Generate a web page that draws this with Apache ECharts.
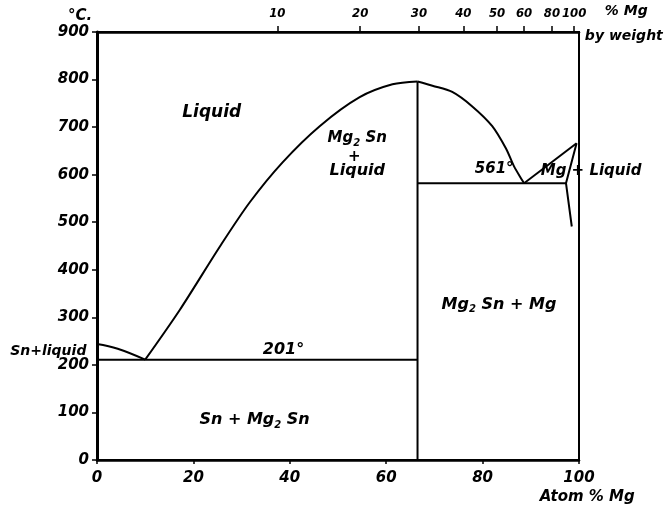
<!DOCTYPE html>
<html>
<head>
<meta charset="utf-8">
<script src="https://cdn.jsdelivr.net/npm/echarts@6/dist/echarts.min.js"></script>
<style>html,body{margin:0;padding:0;background:#fff}#c{width:671px;height:508px}</style>
</head>
<body>
<div id="c"></div>
<script>
// ---- data (atom % Mg, temperature °C) ----
const snLiquidus = [[0,244],[4.3,234],[10,211]];
const mg2snLiquidusLeft = [[10,211],[17.2,316],[25.5,449],[31.7,542],[38.5,626],[46.2,702],[54.5,763],[61.3,790],[66.5,796]];
const mg2snLiquidusRight = [[66.5,796],[69.6,787],[73.7,774],[77.8,744],[82,702],[84.9,654],[86.5,618],[88.6,582]];
const eutecticSn = [[0,211],[66.5,211]];
const mg2snCompound = [[66.5,0],[66.5,796]];
const eutecticMg = [[66.5,582],[97.3,582]];
const mgLiquidus = [[88.6,582],[99.5,666]];
const mgSolidus = [[99.5,666],[97.3,582],[98.5,491]];

const yTicks = [0,100,200,300,400,500,600,700,800,900];
const xTicks = [0,20,40,60,80,100];
// top axis: weight % Mg ticks, located at atom % positions
const weightLabels = ['10','20','30','40','50','60','80','100'];
const weightPosAtom = [37.4,54.6,66.8,76.0,83.0,88.6,94.4,99.0];

// annotations: [text, atom%, temp]
const annText = ['Liquid','Mg{s|2} Sn','+','Liquid','561°','Mg + Liquid','Mg{s|2} Sn + Mg','201°','Sn + Mg{s|2} Sn','Sn+liquid','°C.','% Mg','by weight','Atom % Mg'];
const annX = [23.8,54,53.4,54,82.4,102.5,83.4,38.7,32.7,-10.1,-3.5,109.8,109.3,101.7];
const annY = [731,677,637,609,611,607,327,232,84,228,934,944,890,-78];
const annSize = [17,15,15,16,15,15,16,16,16,14,15,14,14,15];

const font = {fontFamily:'DejaVu Sans', fontStyle:'italic', fontWeight:'bold', color:'#000'};

function lineSeries(d, smooth){
  return {type:'line', data:d, symbol:'none', smooth: smooth || false, clip:false,
    lineStyle:{color:'#000', width:2}, xAxisIndex:0, yAxisIndex:0, silent:true, z:3};
}

const chart = echarts.init(document.getElementById('c'), null, {renderer:'canvas'});
chart.setOption({
  animation:false,
  backgroundColor:'#fff',
  grid:{left:97, right:92, top:32, bottom:48, show:true, borderColor:'#000', borderWidth:2, backgroundColor:'transparent'},
  xAxis:[
    {type:'value', min:0, max:100, interval:20, position:'bottom',
     axisLine:{show:true, lineStyle:{color:'#000', width:2.5}},
     axisTick:{show:true, length:4, lineStyle:{color:'#000', width:1.5}},
     splitLine:{show:false},
     axisLabel:Object.assign({fontSize:15, margin:11,
       formatter:v => xTicks.indexOf(v) >= 0 ? String(v) : ''}, font)},
    {type:'value', min:0, max:100, position:'top',
     axisLine:{show:true, lineStyle:{color:'#000', width:2.5}},
     axisTick:{show:true, length:6, customValues:weightPosAtom, lineStyle:{color:'#000', width:1.5}},
     splitLine:{show:false},
     axisLabel:{fontSize:13, margin:12, hideOverlap:false, showMaxLabel:true, showMinLabel:true,
       fontFamily:'DejaVu Sans Condensed, Liberation Sans Narrow, DejaVu Sans', fontStyle:'italic', fontWeight:'bold', color:'#000',
       customValues:weightPosAtom,
       formatter:v => { const i = weightPosAtom.indexOf(v); return i >= 0 ? weightLabels[i] : ''; }}}
  ],
  yAxis:[{type:'value', min:0, max:900, interval:100,
    axisLine:{show:true, lineStyle:{color:'#000', width:3}},
    axisTick:{show:true, length:5, lineStyle:{color:'#000', width:1.5}},
    splitLine:{show:false},
    axisLabel:Object.assign({fontSize:15, margin:8,
      formatter:v => yTicks.indexOf(v) >= 0 ? String(v) : ''}, font)}],
  series:[
    lineSeries(snLiquidus, 0.4),
    lineSeries(mg2snLiquidusLeft, 0.3),
    lineSeries(mg2snLiquidusRight, 0.3),
    lineSeries(eutecticSn),
    lineSeries(mg2snCompound),
    lineSeries(eutecticMg),
    lineSeries(mgLiquidus),
    lineSeries(mgSolidus),
    {type:'scatter', symbolSize:0, clip:false, silent:true, z:5,
     itemStyle:{color:'#000', opacity:1},
     data: annText.map((t,i) => ({name:t, value:[annX[i], annY[i]],
       label:{fontSize:annSize[i]}})),
     label:{show:true, position:[0,0], align:'center', verticalAlign:'middle',
       fontFamily:'DejaVu Sans', fontStyle:'italic', fontWeight:'bold', color:'#000',
       textBorderWidth:0,
       formatter:p => p.name,
       rich:{s:{fontFamily:'DejaVu Sans', fontStyle:'italic', fontWeight:'bold', color:'#000', fontSize:10, padding:[10,0,0,0]}}}}
  ]
});
</script>
</body>
</html>
